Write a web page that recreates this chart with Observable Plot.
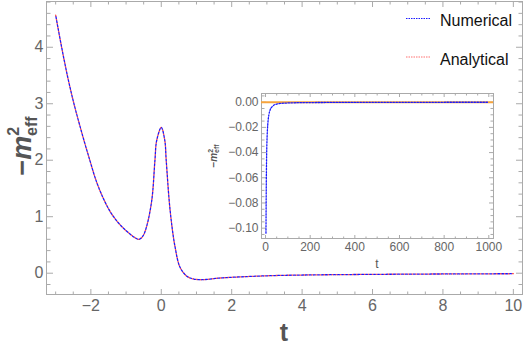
<!DOCTYPE html>
<html><head><meta charset="utf-8">
<script src="https://cdn.jsdelivr.net/npm/d3@7"></script>
<script src="https://cdn.jsdelivr.net/npm/@observablehq/plot@0.6"></script>
<style>
body{margin:0;background:#fff;}
#wrap{position:relative;width:523px;height:347px;font-family:"Liberation Sans",Arial,sans-serif;}
#inset{position:absolute;left:200px;top:80px;}
</style></head><body><div id="wrap"><div id="main"></div><div id="inset"></div></div>
<script>
// ---- data ----
const tValues    = [-3.00,-2.83,-2.65,-2.48,-2.25,-2.03,-1.84,-1.65,-1.46,-1.27,-1.08,-0.90,-0.75,-0.63,-0.52,-0.42,-0.27,-0.18,-0.13,0.00,0.10,0.14,0.25,0.39,0.53,0.70,0.82,1.10,1.67,2.14,3.09,4.03,5.93,7.83,10.00];
const numerical  = [4.57,4.00,3.45,3.00,2.47,2.00,1.62,1.33,1.10,0.93,0.80,0.70,0.63,0.60,0.66,0.82,1.29,2.00,2.35,2.58,2.35,2.00,1.12,0.47,0.11,-0.04,-0.085,-0.115,-0.085,-0.068,-0.044,-0.032,-0.021,-0.014,-0.009];
const analytical = [4.57,4.00,3.45,3.00,2.47,2.00,1.62,1.33,1.10,0.93,0.80,0.70,0.63,0.60,0.66,0.82,1.29,2.00,2.35,2.58,2.35,2.00,1.12,0.47,0.11,-0.04,-0.085,-0.115,-0.085,-0.068,-0.044,-0.032,-0.021,-0.014,-0.009];
const insetT         = [2,3,4,5,7,10,15,20,30,50,80,150,300,600,1000];
const insetNumerical = [-0.104,-0.075,-0.055,-0.042,-0.028,-0.018,-0.010,-0.0065,-0.0035,-0.0015,-0.0008,-0.0004,-0.0002,-0.0001,-0.00005];
const seriesNames = ["Numerical","Analytical"];
const xMajorTicks = [-2,0,2,4,6,8,10];
const yMajorTicks = [0,1,2,3,4];
const insetXTicks = [0,200,400,600,800,1000];
const insetYTicks = [0,-0.02,-0.04,-0.06,-0.08,-0.10];

const FONT = '"Liberation Sans", Arial, sans-serif';
const minus = s => s.replace("-", "\u2212");
function minorTicks(lo, hi, step, majors) {
  return d3.range(Math.ceil(lo/step - 1e-9), Math.floor(hi/step + 1e-9) + 1)
    .map(i => +(i*step).toFixed(6))
    .filter(v => !majors.some(m => Math.abs(m - v) < 1e-9));
}
function inwardTicks(xt, yt, size, stroke) {
  const o = {tickSize: size, fill: "none", stroke, label: null};
  return [
    Plot.axisX(xt, {...o, anchor: "top", frameAnchor: "bottom"}),
    Plot.axisX(xt, {...o, anchor: "bottom", frameAnchor: "top"}),
    Plot.axisY(yt, {...o, anchor: "right", frameAnchor: "left"}),
    Plot.axisY(yt, {...o, anchor: "left", frameAnchor: "right"})
  ];
}

const mainData = tValues.map((t, i) => ({t, num: numerical[i], ana: analytical[i]}));
const xDomain = [-3.26, 10.26], yDomain = [-0.377, 4.81];

const main = Plot.plot({
  width: 523, height: 347,
  marginLeft: 46, marginRight: 1, marginTop: 1, marginBottom: 53,
  style: {fontFamily: FONT, background: "white"},
  x: {domain: xDomain},
  y: {domain: yDomain},
  marks: [
    Plot.frame({stroke: "#aaa"}),
    ...inwardTicks(xMajorTicks, yMajorTicks, 6, "#aaa"),
    ...inwardTicks(minorTicks(xDomain[0], xDomain[1], 0.5, xMajorTicks), minorTicks(yDomain[0], yDomain[1], 0.2, yMajorTicks), 3.5, "#aaa"),
    Plot.axisX(xMajorTicks, {anchor: "bottom", tickSize: 0, tickPadding: 5, fontSize: 16, fill: "#666", tickFormat: d => minus(String(d)), label: null}),
    Plot.axisY(yMajorTicks, {anchor: "left", tickSize: 0, tickPadding: 3, fontSize: 16, fill: "#666", tickFormat: d => minus(String(d)), label: null}),
    Plot.line(mainData, {x: "t", y: "ana", stroke: "#ff5050", strokeWidth: 1.3, strokeDasharray: "1.5,2.5", curve: "catmull-rom"}),
    Plot.line(mainData, {x: "t", y: "num", stroke: "#1a1aff", strokeWidth: 1.3, strokeDasharray: "1.5,2.5", strokeDashoffset: 2, curve: "catmull-rom"})
  ]
});
document.getElementById("main").append(main);

// axis titles and legend
const svg = d3.select(main);
svg.append("text").attr("x", 284).attr("y", 341).attr("text-anchor", "middle")
  .attr("font-size", 25).attr("font-weight", "bold").attr("fill", "#555").text("t");
const yl = svg.append("text").attr("transform", "translate(31,146) rotate(-90)").attr("text-anchor", "middle")
  .attr("font-size", 27).attr("font-weight", "bold").attr("fill", "#555");
yl.append("tspan").text("\u2212");
yl.append("tspan").attr("font-style", "italic").text("m");
yl.append("tspan").attr("font-size", 16).attr("dy", -12).text("2");
yl.append("tspan").attr("font-size", 16).attr("dx", -9).attr("dy", 18).text("eff");

const legendColors = ["#1a1aff", "#ff7070"];
seriesNames.forEach((name, i) => {
  const y = 18.5 + i * 38.5;
  svg.append("line").attr("x1", 406).attr("x2", 430).attr("y1", y).attr("y2", y)
    .attr("stroke", legendColors[i]).attr("stroke-width", 1.2).attr("stroke-dasharray", "1.5,1");
  svg.append("text").attr("x", 440).attr("y", y + 7.5).attr("text-anchor", "start")
    .attr("font-size", 16).attr("fill", "#111").text(name);
});

// ---- inset ----
const insetData = insetT.map((t, i) => ({t, v: insetNumerical[i]}));
const ixDomain = [-18, 1021], iyDomain = [-0.1082, 0.0069];
const inset = Plot.plot({
  width: 323, height: 195,
  marginLeft: 61, marginRight: 30, marginTop: 13, marginBottom: 37,
  style: {fontFamily: FONT, background: "transparent"},
  x: {domain: ixDomain},
  y: {domain: iyDomain},
  marks: [
    Plot.frame({stroke: "#aaa", fill: "white"}),
    ...inwardTicks(insetXTicks, insetYTicks, 4, "#aaa"),
    ...inwardTicks(minorTicks(ixDomain[0], ixDomain[1], 50, insetXTicks), minorTicks(iyDomain[0], iyDomain[1], 0.005, insetYTicks), 2.5, "#aaa"),
    Plot.axisX(insetXTicks, {anchor: "bottom", tickSize: 0, tickPadding: 4, fontSize: 12, fill: "#666", tickFormat: d => String(d), label: null}),
    Plot.axisY(insetYTicks, {anchor: "left", tickSize: 0, tickPadding: 3, fontSize: 12, fill: "#666", tickFormat: d => minus(d.toFixed(2)), label: null}),
    Plot.ruleY([0], {stroke: "#f7a43c", strokeWidth: 2}),
    Plot.line(insetData, {x: "t", y: "v", stroke: "#1a1aff", strokeWidth: 1.3, strokeDasharray: "1.5,1.5", curve: "monotone-x"})
  ]
});
document.getElementById("inset").append(inset);
const isvg = d3.select(inset);
isvg.append("text").attr("x", 177).attr("y", 188).attr("text-anchor", "middle")
  .attr("font-size", 12).attr("fill", "#555").text("t");
const il = isvg.append("text").attr("transform", "translate(17,76) rotate(-90)").attr("text-anchor", "middle")
  .attr("font-size", 10).attr("font-weight", "bold").attr("fill", "#555");
il.append("tspan").text("\u2212");
il.append("tspan").attr("font-style", "italic").text("m");
il.append("tspan").attr("font-size", 7).attr("dy", -4).text("2");
il.append("tspan").attr("font-size", 7).attr("dx", -4).attr("dy", 6).text("eff");
</script></body></html>
